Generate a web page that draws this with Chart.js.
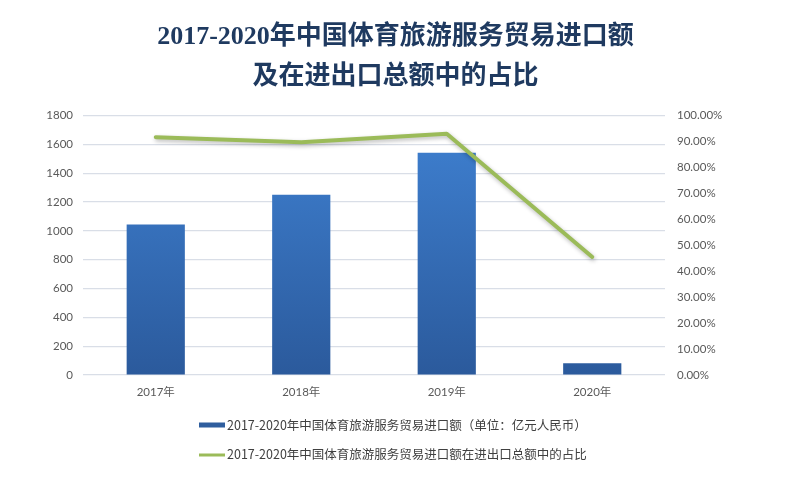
<!DOCTYPE html>
<html>
<head>
<meta charset="utf-8">
<script src="https://cdn.jsdelivr.net/npm/chart.js@4.4.1/dist/chart.umd.min.js"></script>
<style>
  html, body { margin: 0; padding: 0; background: #ffffff; }
  #wrap { width: 791px; height: 479px; }
</style>
</head>
<body>
<div id="wrap"><canvas id="c" width="791" height="479"></canvas></div>
<script>
const titleLines = ['2017-2020年中国体育旅游服务贸易进口额', '及在进出口总额中的占比'];
const categories = ['2017年', '2018年', '2019年', '2020年'];
const importValues = [1045, 1251, 1542, 81];
const shareValues = [91.7, 89.7, 93.0, 45.5];
const barLabel = '2017-2020年中国体育旅游服务贸易进口额（单位：亿元人民币）';
const lineLabel = '2017-2020年中国体育旅游服务贸易进口额在进出口总额中的占比';
const leftTicks = { min: 0, max: 1800, step: 200 };
const rightTicks = { min: 0, max: 100, step: 10 };

const tickFont = { family: 'Lato, "Noto Sans CJK SC", sans-serif', size: 11.5 };
const tickColor = '#595959';

function barGradient(context) {
  const chart = context.chart;
  const area = chart.chartArea;
  if (!area) return '#3A72BF';
  const g = chart.ctx.createLinearGradient(0, area.top, 0, area.bottom);
  g.addColorStop(0, '#3F81D2');
  g.addColorStop(1, '#2B5A9C');
  return g;
}

const shadowPlugin = {
  id: 'lineShadow',
  beforeDatasetDraw(chart, args) {
    if (chart.data.datasets[args.index].type === 'line') {
      const ctx = chart.ctx;
      ctx.save();
      ctx.shadowColor = 'rgba(0,0,0,0.28)';
      ctx.shadowBlur = 4;
      ctx.shadowOffsetX = 1;
      ctx.shadowOffsetY = 2;
    }
  },
  afterDatasetDraw(chart, args) {
    if (chart.data.datasets[args.index].type === 'line') {
      chart.ctx.restore();
    }
  }
};

const legendPlugin = {
  id: 'twoRowLegend',
  afterDraw(chart) {
    const ctx = chart.ctx;
    const ds = chart.data.datasets;
    const x0 = 199;
    const rows = [425, 454];
    ctx.save();
    ctx.font = '12.5px "Noto Sans CJK SC", Lato, sans-serif';
    ctx.textBaseline = 'middle';
    ctx.textAlign = 'left';
    [ds[1], ds[0]].forEach((d, i) => {
      const y = rows[i];
      if (d.type === 'bar') {
        ctx.fillStyle = '#2F5E9E';
        ctx.fillRect(x0, y - 2.5, 26, 5);
      } else {
        ctx.strokeStyle = d.borderColor;
        ctx.lineWidth = 3;
        ctx.beginPath();
        ctx.moveTo(x0, y + 1);
        ctx.lineTo(x0 + 26, y + 1);
        ctx.stroke();
      }
      ctx.fillStyle = '#404040';
      ctx.fillText(d.label, x0 + 28, y);
    });
    ctx.restore();
  }
};

new Chart(document.getElementById('c'), {
  data: {
    labels: categories,
    datasets: [
      {
        type: 'line',
        label: lineLabel,
        data: shareValues,
        yAxisID: 'y1',
        borderColor: '#9BBB59',
        borderWidth: 4,
        pointRadius: 0,
        pointHoverRadius: 0,
        tension: 0,
        borderCapStyle: 'round',
        borderJoinStyle: 'round',
        fill: false,
        order: 0
      },
      {
        type: 'bar',
        label: barLabel,
        data: importValues,
        yAxisID: 'y',
        backgroundColor: barGradient,
        borderWidth: 0,
        barPercentage: 0.4,
        categoryPercentage: 1.0,
        order: 1
      }
    ]
  },
  options: {
    responsive: false,
    animation: false,
    devicePixelRatio: 1,
    layout: { padding: { left: 0, right: 0, top: 0, bottom: 70 } },
    plugins: {
      legend: { display: false },
      tooltip: { enabled: false },
      title: {
        display: true,
        text: titleLines,
        color: '#1F3A60',
        font: { family: '"Liberation Serif", "Noto Sans CJK SC", serif', size: 26, weight: 'bold', lineHeight: 1.55 },
        padding: { top: 17, bottom: 18 }
      }
    },
    scales: {
      x: {
        grid: { display: false, drawTicks: false },
        border: { display: false },
        ticks: { font: tickFont, color: tickColor, padding: 10, maxRotation: 0, autoSkip: false },
        afterFit(scale) { scale.height = 34; }
      },
      y: {
        position: 'left',
        min: leftTicks.min,
        max: leftTicks.max,
        grid: { color: '#D9DEE7', lineWidth: 1.2, drawTicks: false },
        border: { display: false },
        ticks: { stepSize: leftTicks.step, font: tickFont, color: tickColor, padding: 10, callback: v => String(v) },
        afterFit(scale) { scale.width = 83; }
      },
      y1: {
        position: 'right',
        min: rightTicks.min,
        max: rightTicks.max,
        grid: { display: false, drawTicks: false },
        border: { display: false },
        ticks: {
          stepSize: rightTicks.step,
          font: tickFont,
          color: tickColor,
          padding: 12,
          callback: v => Number(v).toFixed(2) + '%'
        },
        afterFit(scale) { scale.width = 126; }
      }
    }
  },
  plugins: [shadowPlugin, legendPlugin]
});
</script>
</body>
</html>
